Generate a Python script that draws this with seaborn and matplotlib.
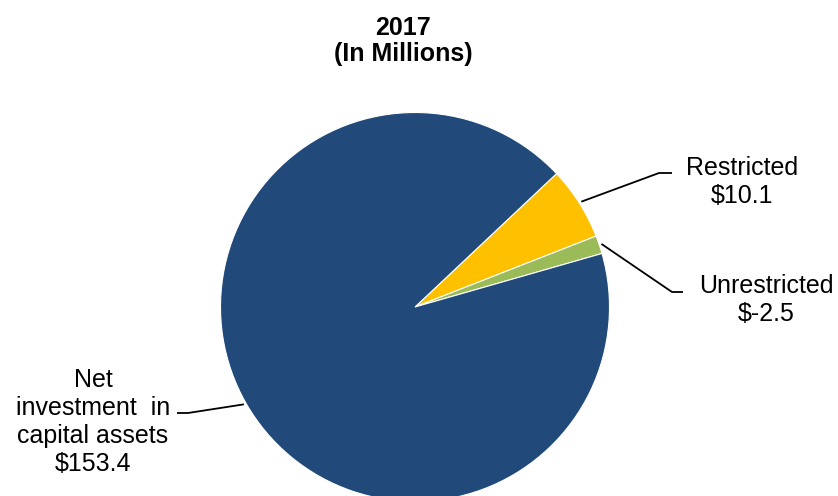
import numpy as np
import matplotlib
matplotlib.use("Agg")
import matplotlib.pyplot as plt
import seaborn as sns

# Net position components, fiscal 2017 (in millions)
categories = ["Net\ninvestment  in\ncapital assets", "Restricted", "Unrestricted"]
values = [153.4, 10.1, -2.5]
value_labels = ["$153.4", "$10.1", "$-2.5"]
palette = ["#214A7B", "#FFC000", "#9BBB59"]

sns.set_theme(style="white")
plt.rcParams["font.family"] = ["Liberation Sans", "DejaVu Sans"]

W, H = 838, 496
fig = plt.figure(figsize=(W / 100, H / 100), dpi=100)
ax = fig.add_axes([0, 0, 1, 1])

# pie drawn in pixel-like units; slice order clockwise: restricted, unrestricted, net
order = [1, 2, 0]
sizes = [abs(values[i]) for i in order]
cols = [palette[i] for i in order]
cx, cy, r = 415, H - 307, 194.5
wedges, _ = ax.pie(sizes, colors=cols, startangle=43.3, counterclock=False,
                   center=(cx, cy), radius=r,
                   wedgeprops=dict(edgecolor="white", linewidth=0.8))
ax.set_xlim(0, W)
ax.set_ylim(0, H)
ax.set_aspect("equal")
ax.axis("off")

# leader line elbows/ends and label anchors (x, y from top)
elbows = {1: ((659, 173), (672, 173)),
          2: ((672, 292), (683, 292)),
          0: ((188, 413), (177, 413))}
anchors = {1: (742, 182), 2: (766, 300), 0: (93, 422)}

for w, idx in zip(wedges, order):
    mid = np.deg2rad((w.theta1 + w.theta2) / 2)
    rr = r * 1.012
    sx, sy = cx + rr * np.cos(mid), cy + rr * np.sin(mid)
    (ex, ey), (fx, fy) = elbows[idx]
    ax.plot([sx, ex, fx], [sy, H - ey, H - fy], color="black", lw=1.3,
            solid_capstyle="butt", clip_on=False)
    tx, ty = anchors[idx]
    ax.text(tx, H - ty, f"{categories[idx]}\n{value_labels[idx]}",
            ha="center", va="center", fontsize=18, linespacing=1.2,
            color="black")

ax.text(403, H - 41, "2017\n(In Millions)", ha="center", va="center",
        fontsize=18, fontweight="bold", linespacing=1.15, color="black")

fig.savefig("out.png", dpi=100)
